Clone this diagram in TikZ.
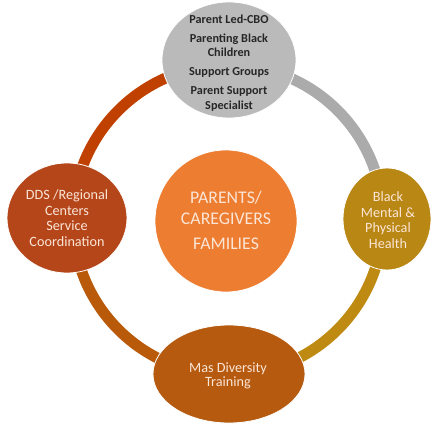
\documentclass[tikz,border=0pt]{standalone}
\usepackage{fontspec}
\setmainfont{Carlito}
\usetikzlibrary{shapes.geometric}
\definecolor{hubfill}{HTML}{ED7D31}
\definecolor{hubtext}{HTML}{FBE5D6}
\definecolor{grayfill}{HTML}{BABABA}
\definecolor{rustfill}{HTML}{B4461A}
\definecolor{goldfill}{HTML}{B98714}
\definecolor{brownfill}{HTML}{B65A10}
\definecolor{arcrust}{HTML}{C04000}
\definecolor{arcgray}{HTML}{ABABAB}
\definecolor{arcgold}{HTML}{BF8A12}
\definecolor{arcbrown}{HTML}{B95A0A}
\definecolor{darktext}{HTML}{262626}
\tikzset{
  x=1pt, y=1pt,
  ringarc/.style={line width=11pt, line cap=butt},
  blob/.style={ellipse, draw=white, line width=0.8pt, inner sep=0pt},
  lighttext/.style={text=hubtext, align=center, font=\fontsize{14.2}{15.5}\selectfont},
}
\begin{document}
\begin{tikzpicture}
\useasboundingbox (0,0) rectangle (433,426);

% ring behind the circles
\coordinate (ring) at (228,206);
\coordinate (pL) at (73,206);
\coordinate (pT) at (228,361);
\coordinate (pR) at (383,206);
\coordinate (pB) at (228,51);
\draw[ringarc, arcrust]  (pL) arc[start angle=180, end angle=90,  radius=155];
\draw[ringarc, arcgray]  (pT) arc[start angle=90,  end angle=0,   radius=155];
\draw[ringarc, arcgold]  (pR) arc[start angle=0,   end angle=-90, radius=155];
\draw[ringarc, arcbrown] (pB) arc[start angle=270, end angle=180, radius=155];

% outer circles
\node[blob, fill=grayfill, minimum width=134pt, minimum height=116pt] (top) at (229,366) {};
\node[blob, fill=rustfill, minimum width=120pt, minimum height=110pt] (left) at (67,208) {};
\node[blob, fill=goldfill, minimum width=88pt, minimum height=102pt] (right) at (387,207) {};
\node[blob, fill=brownfill, minimum width=152pt, minimum height=98pt] (bottom) at (229,52) {};

% centre circle
\node[circle, fill=hubfill, draw=white, line width=0.8pt, minimum size=142pt, inner sep=0pt] (hub) at (226,205) {};

% texts
\node[text=darktext, align=center, font=\bfseries\fontsize{12.2}{14.5}\selectfont] (topt) at (229,363)
  {Parent Led-CBO\\[4.5pt]Parenting Black\\Children\\[4.5pt]Support Groups\\[4.5pt]Parent Support\\Specialist};
\node[lighttext] (leftt) at (67,208) {DDS /Regional\\Centers\\Service\\Coordination};
\node[lighttext] (rightt) at (388,206) {Black\\Mental \&\\Physical\\Health};
\node[lighttext, font=\fontsize{14.2}{14.5}\selectfont] (bottomt) at (228,50) {Mas Diversity\\Training};
\node[text=hubtext, align=center, font=\fontsize{17.8}{21}\selectfont] (hubt) at (226,206)
  {PARENTS/\\CAREGIVERS\\[4pt]FAMILIES};
\end{tikzpicture}
\end{document}
